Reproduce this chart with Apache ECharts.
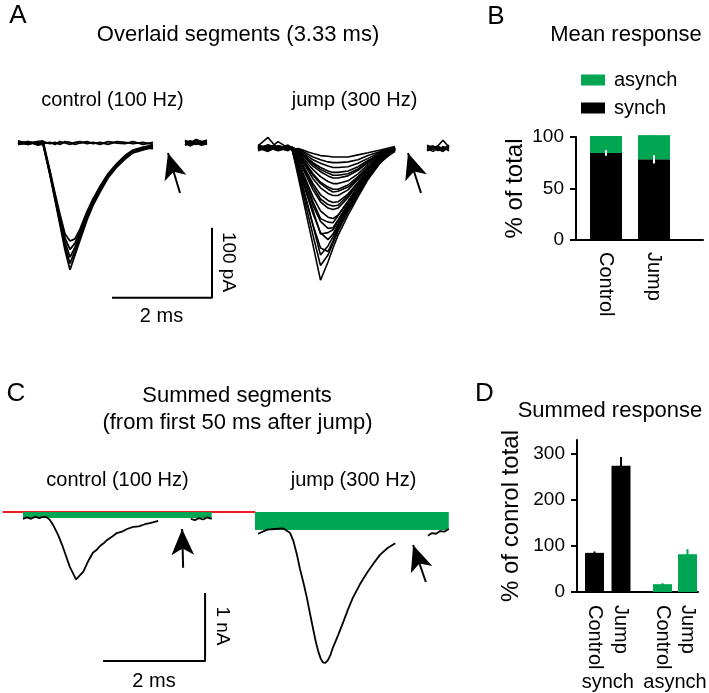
<!DOCTYPE html>
<html>
<head>
<meta charset="utf-8">
<script src="https://cdn.jsdelivr.net/npm/echarts@6/dist/echarts.min.js"></script>
<style>html,body{margin:0;padding:0;background:#fff}#c{width:709px;height:693px}</style>
</head>
<body>
<div id="c"></div>
<script>
// ================= DATA =================
// Panel A: overlaid segments (time in ms, current in pA)
const tA = [0, 0.2, 0.4, 0.5, 0.64, 0.74, 0.84, 0.94, 1.04, 1.14, 1.24, 1.38, 1.5, 1.64, 1.8, 1.98, 2.14, 2.3, 2.5, 2.7];
const aControlTraces = [
  [2, -2, 2, 0, -46, -81, -117, -153, -181, -160, -139, -110, -89, -70, -50, -34, -23, -14, -10, -6],
  [-2, 2, -2, -2, -45, -79, -114, -148, -172, -154, -134, -107, -86, -67, -48, -33, -22, -13, -9, -5],
  [3, -1, 1, 2, -43, -77, -110, -142, -163, -149, -131, -104, -84, -65, -47, -31, -20, -12, -8, -4],
  [0, 2, -3, -1, -42, -75, -106, -136, -152, -143, -127, -101, -82, -63, -45, -30, -19, -11, -7, -8],
  [-2, 0, 2, 3, -40, -72, -102, -130, -140, -137, -123, -98, -80, -62, -44, -29, -18, -10, -6, -3],
  [1, -2, 2, -1, 1, -2, 2, 0, -2, 1, 2, -1, 1, -2, 2, 0, -1, 2, -2, 1],
  [-2, 1, -1, 2, -1, 1, -2, 2, 1, -2, 0, 2, -1, 1, -2, 2, 1, -1, 1, -2]
];
const tA2 = [3.34, 3.45, 3.56, 3.67, 3.78];
const aControlTail = [
  [2, -2, 3, -1, 1], [-3, 1, -2, 2, -2], [4, 0, 5, 2, 3], [-1, -4, 0, -3, -1], [1, 3, -1, 1, 4]
];
const tJ = [0, 0.2, 0.4, 0.6, 0.68, 0.8, 0.9, 1.0, 1.1, 1.25, 1.4, 1.5, 1.6, 1.8, 2.0, 2.2, 2.45, 2.74];
const aJumpTraces = [
  [-4, 8, -9, -6, -8, -47, -80, -113, -146, -196, -170, -150, -132, -103, -77, -52, -28, -10],
  [-9, -3, -6, -11, -7, -42, -72, -102, -132, -175, -160, -143, -126, -98, -74, -50, -27, -8],
  [-7, -9, -5, -8, -9, -40, -66, -92, -118, -160, -147, -134, -119, -93, -70, -47, -25, -9],
  [-6, -10, 2, -7, -9, -37, -63, -90, -117, -150, -155, -140, -122, -95, -71, -48, -26, -12],
  [-11, -6, -8, -3, -7, -33, -56, -79, -101, -128, -138, -130, -116, -91, -68, -46, -24, -7],
  [-5, -8, -7, -6, -8, -31, -54, -75, -96, -130, -128, -124, -112, -88, -66, -45, -24, -8],
  [-7, -12, -5, -8, -6, -29, -49, -69, -89, -112, -122, -121, -110, -87, -65, -44, -23, -9],
  [-9, -6, -10, -7, -7, -27, -46, -64, -84, -108, -113, -114, -104, -84, -63, -43, -23, -10],
  [-3, -7, -10, -6, -9, -25, -43, -60, -77, -97, -106, -108, -103, -83, -62, -42, -22, -11],
  [-10, -5, -7, -9, -8, -21, -37, -52, -67, -84, -93, -95, -93, -78, -59, -40, -21, -6],
  [-6, -10, -5, -9, -8, -20, -34, -48, -62, -80, -88, -90, -89, -75, -57, -39, -20, -7],
  [-6, -9, -4, -7, -10, -19, -32, -45, -58, -74, -82, -85, -84, -73, -56, -38, -20, -9],
  [-8, -4, -9, -5, -7, -16, -28, -39, -51, -64, -72, -75, -75, -67, -52, -36, -19, -8],
  [-8, -6, -9, -5, -10, -15, -26, -36, -46, -58, -66, -70, -69, -63, -50, -35, -18, -9],
  [-5, -10, -6, -8, -6, -14, -24, -34, -44, -56, -63, -66, -66, -60, -48, -34, -18, -10],
  [-9, -6, -11, -7, -8, -13, -21, -30, -38, -48, -55, -58, -58, -54, -44, -31, -17, -7],
  [-7, -3, -8, -10, -7, -12, -18, -26, -33, -41, -47, -50, -50, -47, -39, -28, -16, -9],
  [-5, -9, -7, -10, -6, -11, -17, -24, -30, -38, -43, -46, -46, -44, -37, -27, -15, -8],
  [-4, -8, -6, -5, -9, -11, -16, -22, -28, -35, -40, -42, -42, -40, -34, -25, -15, -6],
  [-10, -6, -9, -7, -6, -10, -14, -19, -24, -29, -33, -35, -35, -34, -29, -22, -13, -10],
  [-6, -11, -4, -9, -8, -9, -12, -16, -20, -24, -27, -28, -28, -27, -24, -18, -12, -7],
  [-8, -5, -7, -6, -10, -8, -10, -13, -15, -18, -19, -20, -20, -20, -17, -14, -10, -5]
];
const tJ2 = [3.38, 3.5, 3.6, 3.7, 3.82];
const aJumpTail = [
  [-5, -9, -6, -10, -7], [-10, -6, -11, -5, -9], [-3, -7, -4, 4, -6],
  [-8, -12, -8, -7, -11], [-6, -4, -9, -12, -5], [-11, -8, -5, -8, -3]
];

// Panel B: mean response (% of total)
const bCategories = ['Control', 'Jump'];
const bSynch = [84.5, 78.3];
const bAsynch = [16.5, 23.5];
const bSynchErr = [2.8, 4];

// Panel C: summed segments (time in ms, current in nA)
const cControlT = [0, 0.08, 0.16, 0.24, 0.32, 0.4, 0.47, 0.53, 0.59, 0.69, 0.78, 0.92, 1.04, 1.18, 1.28, 1.37, 1.44, 1.51, 1.58, 1.65, 1.75, 1.84, 1.94, 2.04, 2.16, 2.27, 2.39, 2.51, 2.65];
const cControlI = [-0.1, -0.08, -0.1, -0.07, -0.09, -0.07, -0.08, -0.12, -0.19, -0.34, -0.51, -0.81, -0.99, -0.88, -0.72, -0.6, -0.56, -0.5, -0.46, -0.41, -0.36, -0.31, -0.29, -0.25, -0.22, -0.21, -0.18, -0.16, -0.13];
const cControlT2 = [3.29, 3.37, 3.45, 3.53, 3.61, 3.7];
const cControlI2 = [-0.1, -0.12, -0.09, -0.11, -0.08, -0.1];
const cJumpT = [0.06, 0.24, 0.39, 0.55, 0.69, 0.75, 0.82, 0.88, 0.95, 1.02, 1.08, 1.14, 1.19, 1.24, 1.29, 1.33, 1.38, 1.43, 1.48, 1.53, 1.63, 1.73, 1.82, 1.92, 2.06, 2.2, 2.33, 2.45, 2.6, 2.75];
const cJumpI = [-0.32, -0.26, -0.25, -0.24, -0.31, -0.42, -0.62, -0.83, -1.04, -1.27, -1.5, -1.72, -1.9, -2.05, -2.16, -2.21, -2.22, -2.18, -2.1, -1.99, -1.81, -1.62, -1.44, -1.26, -1.06, -0.89, -0.75, -0.63, -0.53, -0.46];
const cJumpT2 = [3.39, 3.47, 3.55, 3.63, 3.71, 3.8];
const cJumpI2 = [-0.35, -0.31, -0.32, -0.28, -0.29, -0.25];
// asynchronous baseline (green): [start ms, end ms, level nA]
const cAsynchControl = [0, 3.7, -0.09];
const cAsynchJump = [0, 3.8, -0.265];

// Panel D: summed response (% of control total)
const dCategories = ['Control', 'Jump'];
const dSynch = [85, 274];
const dSynchErr = [3, 19];
const dAsynch = [17, 82];
const dAsynchErr = [2, 11];

// ================= STYLE / LAYOUT =================
const FONT = "'Liberation Sans', Arial, Helvetica, sans-serif";
const BLACK = '#000000', GREEN = '#00a651', RED = '#ed1c24';

const chart = echarts.init(document.getElementById('c'), null, {renderer: 'canvas'});

function hiddenAxis(gridIndex, min, max) {
  return {type: 'value', gridIndex, min, max, show: false, splitLine: {show: false}};
}
function grid(left, top, width, height) {
  return {left, top, width, height, containLabel: false, outerBoundsMode: 'none'};
}
function traceSeries(gi, ts, vals, width) {
  return {
    type: 'line', xAxisIndex: gi, yAxisIndex: gi, z: 3,
    data: ts.map((t, i) => [t, vals[i]]),
    symbol: 'none', showSymbol: false, silent: true, animation: false,
    lineStyle: {color: BLACK, width: width || 1.5}
  };
}
function arrowLine(from, to) {
  return {
    silent: true, animation: false, symbol: ['none', 'arrow'], symbolSize: [17, 26],
    label: {show: false}, emphasis: {disabled: true},
    lineStyle: {color: BLACK, width: 2, type: 'solid'},
    data: [[{coord: from}, {coord: to}]]
  };
}
function scaleBar(gi, x0, y0, dx, dy) {
  return {
    type: 'line', xAxisIndex: gi, yAxisIndex: gi, z: 3,
    data: [[x0, y0], [x0 + dx, y0], [x0 + dx, y0 + dy]],
    symbol: 'none', silent: true, animation: false,
    lineStyle: {color: BLACK, width: 2}
  };
}
function errSeries(gi, vals, errs, color) {
  return {
    type: 'custom', xAxisIndex: gi, yAxisIndex: gi, z: 5, silent: true, animation: false,
    data: vals.map((v, i) => [i, v - errs[i], v + errs[i]]),
    encode: {x: 0, y: [1, 2]},
    renderItem: function (params, api) {
      const p1 = api.coord([api.value(0), api.value(1)]);
      const p2 = api.coord([api.value(0), api.value(2)]);
      return {type: 'line', shape: {x1: p1[0], y1: p1[1], x2: p2[0], y2: p2[1]},
              style: {stroke: color, lineWidth: 2}};
    }
  };
}
function greenRect(gi, spec) {
  return {
    type: 'custom', xAxisIndex: gi, yAxisIndex: gi, z: 2, silent: true, animation: false,
    data: [spec], encode: {x: [0, 1], y: 2},
    renderItem: function (params, api) {
      const a = api.coord([api.value(0), 0]);
      const b = api.coord([api.value(1), api.value(2)]);
      return {type: 'rect', shape: {x: a[0], y: a[1], width: b[0] - a[0], height: b[1] - a[1]},
              style: {fill: GREEN}};
    }
  };
}
function txt(text, x, y, size, rotated) {
  return {
    type: 'text', x, y, rotation: rotated ? -Math.PI / 2 : 0, silent: true,
    style: {text, fill: BLACK, fontSize: size, fontFamily: FONT,
            align: 'center', verticalAlign: 'middle', textAlign: 'center', textVerticalAlign: 'middle'}
  };
}
const frameLine = {show: true, onZero: false, lineStyle: {color: BLACK, width: 2}};

// axis ranges
const A_X = [0, 4], A_Y = [-230, 15];
const C_CX = [-0.4, 4.55], C_JX = [0, 3.85], C_Y = [-2.5, 0.2];

const grids = [
  grid(18, 132.5, 200, 171.5),     // 0 A control
  grid(258, 132.5, 200, 171.5),    // 1 A jump
  grid(576, 137, 127, 103),        // 2 B frame
  grid(582, 137, 96, 103),         // 3 B bars
  grid(2.6, 498.4, 252.45, 183.6), // 4 C control
  grid(255, 498.4, 196.35, 183.6), // 5 C jump
  grid(577, 440, 121, 152),        // 6 D frame
  grid(581.25, 440, 53, 152),      // 7 D synch
  grid(650, 440, 50, 152)          // 8 D asynch
];

const catLabel = {rotate: -90, fontSize: 20, color: BLACK, fontFamily: FONT, margin: 12, interval: 0};

const xAxes = [
  hiddenAxis(0, A_X[0], A_X[1]),
  hiddenAxis(1, A_X[0], A_X[1]),
  {type: 'value', gridIndex: 2, min: 0, max: 1, axisLine: frameLine, axisTick: {show: false}, axisLabel: {show: false}, splitLine: {show: false}},
  {type: 'category', gridIndex: 3, data: bCategories, axisLine: {show: false}, axisTick: {show: false}, axisLabel: catLabel},
  hiddenAxis(4, C_CX[0], C_CX[1]),
  hiddenAxis(5, C_JX[0], C_JX[1]),
  {type: 'value', gridIndex: 6, min: 0, max: 1, axisLine: frameLine, axisTick: {show: false}, axisLabel: {show: false}, splitLine: {show: false}},
  {type: 'category', gridIndex: 7, data: dCategories, axisLine: {show: false}, axisTick: {show: false},
   axisLabel: Object.assign({}, catLabel, {margin: 13}),
   name: 'synch', nameLocation: 'middle', nameGap: 80, nameMoveOverlap: false,
   nameTextStyle: {fontSize: 20, color: BLACK, fontFamily: FONT}},
  {type: 'category', gridIndex: 8, data: dCategories, axisLine: {show: false}, axisTick: {show: false},
   axisLabel: Object.assign({}, catLabel, {margin: 13}),
   name: 'asynch', nameLocation: 'middle', nameGap: 80, nameMoveOverlap: false,
   nameTextStyle: {fontSize: 20, color: BLACK, fontFamily: FONT}}
];

const yFrame = (gi, max, interval, name, gap) => ({
  type: 'value', gridIndex: gi, min: 0, max, interval,
  axisLine: frameLine,
  axisTick: {show: true, length: 6, lineStyle: {color: BLACK, width: 2}},
  axisLabel: {fontSize: 19, color: BLACK, fontFamily: FONT, margin: 12},
  splitLine: {show: false},
  name, nameLocation: 'middle', nameGap: gap, nameMoveOverlap: false,
  nameTextStyle: {fontSize: 24, color: BLACK, fontFamily: FONT}
});

const yAxes = [
  hiddenAxis(0, A_Y[0], A_Y[1]),
  hiddenAxis(1, A_Y[0], A_Y[1]),
  yFrame(2, 100, 50, '% of total', 49),
  hiddenAxis(3, 0, 100),
  hiddenAxis(4, C_Y[0], C_Y[1]),
  hiddenAxis(5, C_Y[0], C_Y[1]),
  yFrame(6, 330, 100, '% of conrol total', 54),
  hiddenAxis(7, 0, 330),
  hiddenAxis(8, 0, 330)
];

const series = [];
// ---- A control
aControlTraces.forEach((tr, k) => {
  const s = traceSeries(0, tA, tr, 1.8);
  if (k === 0) s.markLine = arrowLine([3.24, -71.4], [3.0, -14.3]);
  series.push(s);
});
aControlTail.forEach(tr => series.push(traceSeries(0, tA2, tr, 1.8)));
series.push(scaleBar(0, 1.88, -221, 2, 100));
// ---- A jump
aJumpTraces.forEach((tr, k) => {
  const s = traceSeries(1, tJ, tr, 1.6);
  if (k === 0) s.markLine = arrowLine([3.26, -71.4], [3.0, -14.3]);
  series.push(s);
});
aJumpTail.forEach(tr => series.push(traceSeries(1, tJ2, tr, 1.6)));
// ---- B
series.push({name: 'synch', type: 'bar', xAxisIndex: 3, yAxisIndex: 3, stack: 'b', data: bSynch,
  barWidth: 32, clip: false, itemStyle: {color: BLACK}, silent: true, animation: false});
series.push({name: 'asynch', type: 'bar', xAxisIndex: 3, yAxisIndex: 3, stack: 'b', data: bAsynch,
  barWidth: 32, clip: false, itemStyle: {color: GREEN}, silent: true, animation: false});
series.push(errSeries(3, bSynch, bSynchErr, '#ffffff'));
// ---- C control
series.push({type: 'line', xAxisIndex: 4, yAxisIndex: 4, z: 1, data: [[C_CX[0], 0], [C_CX[1], 0]],
  symbol: 'none', silent: true, animation: false, lineStyle: {color: RED, width: 2}});
series.push(greenRect(4, cAsynchControl));
(function () {
  const s = traceSeries(4, cControlT, cControlI, 1.8);
  s.markLine = arrowLine([3.14, -0.82], [3.12, -0.25]);
  series.push(s);
})();
series.push(traceSeries(4, cControlT2, cControlI2, 1.8));
series.push(scaleBar(4, 1.57, -2.19, 2, 1));
// ---- C jump
series.push(greenRect(5, cAsynchJump));
(function () {
  const s = traceSeries(5, cJumpT, cJumpI, 1.8);
  s.markLine = arrowLine([3.35, -1.03], [3.1, -0.485]);
  series.push(s);
})();
series.push(traceSeries(5, cJumpT2, cJumpI2, 1.8));
// ---- D
series.push({name: 'D synch', type: 'bar', xAxisIndex: 7, yAxisIndex: 7, data: dSynch, barWidth: 19,
  itemStyle: {color: BLACK}, silent: true, animation: false});
series.push(errSeries(7, dSynch, dSynchErr, BLACK));
series.push({name: 'D asynch', type: 'bar', xAxisIndex: 8, yAxisIndex: 8, data: dAsynch, barWidth: 19,
  itemStyle: {color: GREEN}, silent: true, animation: false});
series.push(errSeries(8, dAsynch, dAsynchErr, GREEN));

const option = {
  animation: false,
  backgroundColor: '#ffffff',
  textStyle: {fontFamily: FONT},
  grid: grids,
  xAxis: xAxes,
  yAxis: yAxes,
  legend: {
    data: ['asynch', 'synch'], orient: 'vertical', left: 576, top: 65,
    itemWidth: 24, itemHeight: 11, itemGap: 8, icon: 'rect', selectedMode: false,
    textStyle: {fontSize: 20, color: BLACK, fontFamily: FONT, padding: [0, 0, 0, 4]}
  },
  graphic: [
    txt('A', 18, 16, 26),
    txt('Overlaid segments (3.33 ms)', 238, 35, 22),
    txt('control (100 Hz)', 112.5, 100, 20),
    txt('jump (300 Hz)', 354.5, 100, 20),
    txt('100 pA', 228.5, 262, 19, true),
    txt('2 ms', 161.5, 316.5, 20),
    txt('B', 496, 16.5, 26),
    txt('Mean response', 626, 35, 22),
    txt('C', 16, 393.5, 26),
    txt('Summed segments', 237, 395.5, 22),
    txt('(from first 50 ms after jump)', 237.5, 422.5, 22),
    txt('control (100 Hz)', 117.5, 480, 20),
    txt('jump (300 Hz)', 353.5, 480, 20),
    txt('1 nA', 222.5, 626, 19, true),
    txt('2 ms', 154, 681.5, 20),
    txt('D', 484.5, 393.5, 26),
    txt('Summed response', 610, 410.5, 22)
  ],
  series
};
chart.setOption(option);
</script>
</body>
</html>
